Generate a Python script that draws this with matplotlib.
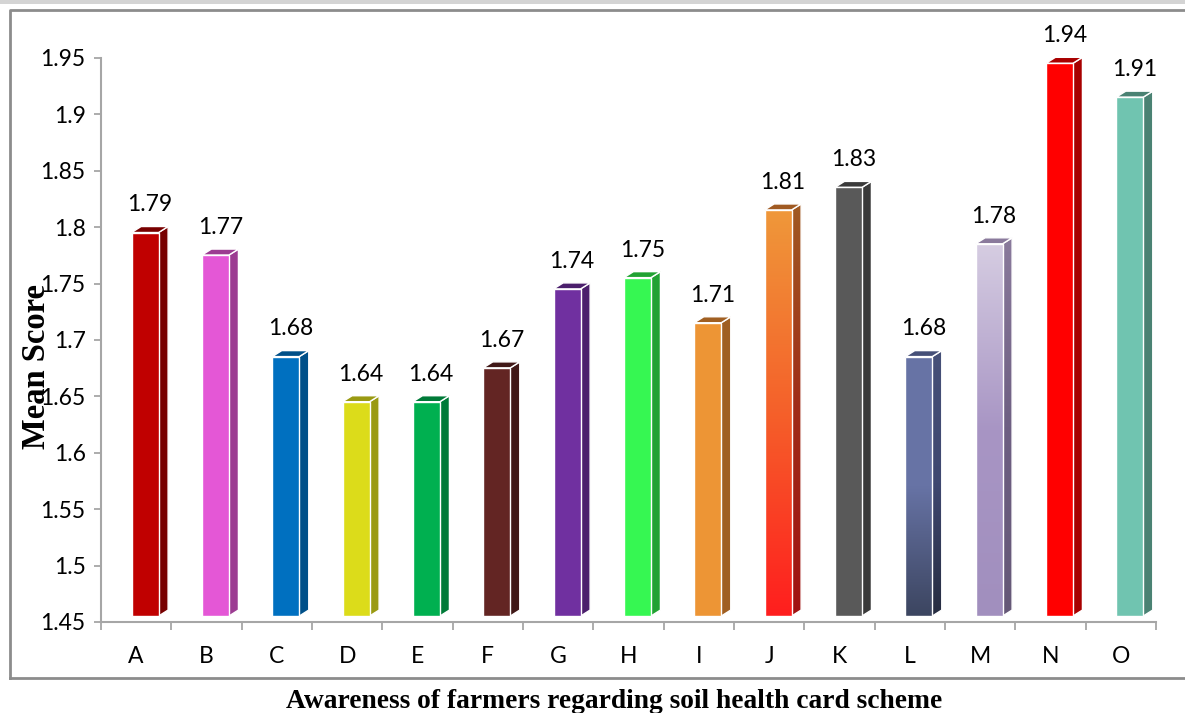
import numpy as np
import matplotlib
matplotlib.use("Agg")
import matplotlib.pyplot as plt
from matplotlib.patches import Polygon, Rectangle
from matplotlib.colors import to_rgb, LinearSegmentedColormap

# Mean awareness scores for each statement
categories = ["A", "B", "C", "D", "E", "F", "G", "H", "I", "J", "K", "L", "M", "N", "O"]
mean_scores = [1.79, 1.77, 1.68, 1.64, 1.64, 1.67, 1.74, 1.75, 1.71, 1.81, 1.83, 1.68, 1.78, 1.94, 1.91]
y_ticks = [1.45, 1.5, 1.55, 1.6, 1.65, 1.7, 1.75, 1.8, 1.85, 1.9, 1.95]

# Face colours: front (top->bottom gradient stops) and side shade
front_colors = [
    ["#c00000"], ["#e457d6"], ["#0070c0"], ["#dcdc1a"], ["#00b050"],
    ["#632523"], ["#7030a0"], ["#36f752"], ["#ed9535"],
    ["#ef983a", "#f5602a", "#ff1e1e"],
    ["#595959"],
    ["#6874a6", "#6773a5", "#3c4560"],
    ["#d6cde2", "#a895c4", "#a18fbe"],
    ["#ff0000"], ["#70c4b0"],
]
side_colors = [
    ["#780000"], ["#9c3c92"], ["#005089"], ["#9a9a12"], ["#007a38"],
    ["#401817"], ["#4b1f6c"], ["#22a233"], ["#a05f22"],
    ["#a05a22", "#a02c18", "#a01212"],
    ["#3a3a3a"],
    ["#465078", "#3f4870", "#262c40"],
    ["#8a7a9c", "#6e5f82", "#655877"],
    ["#a80000"], ["#4a8273"],
]

plt.rcParams["font.family"] = ["Lato", "DejaVu Sans"]

fig = plt.figure(figsize=(11.85, 7.13), dpi=100)

# page band and chart frame
fig.patches.append(Rectangle((0, 1 - 4 / 713), 1, 4 / 713, transform=fig.transFigure,
                             facecolor="#d4d4d4", edgecolor="none", zorder=0))
fig.lines.append(plt.Line2D([9.5 / 1185, 9.5 / 1185, 1.0], [1 - 678 / 713, 1 - 10 / 713, 1 - 10 / 713],
                            transform=fig.transFigure, color="#8c8c8c", lw=2))
fig.lines.append(plt.Line2D([9.5 / 1185, 1.0], [1 - 678 / 713, 1 - 678 / 713],
                            transform=fig.transFigure, color="#8c8c8c", lw=2))

ax = fig.add_axes([101 / 1185, 1 - 622 / 713, (1156 - 101) / 1185, (622 - 58) / 713])
ax.set_xlim(0, len(categories))
ax.set_ylim(1.45, 1.95)

# geometry of the pseudo-3D bars (data units)
lift = 0.0053
x_off = -0.065
front_w = 0.384
depth_x = 0.135
depth_y = 0.0053


def draw_face(verts, stops, zorder):
    poly = Polygon(verts, closed=True, facecolor=to_rgb(stops[0]) if len(stops) == 1 else "none",
                   edgecolor="white", lw=1.0, zorder=zorder + 0.5)
    ax.add_patch(poly)
    if len(stops) > 1:
        xs = [v[0] for v in verts]
        ys = [v[1] for v in verts]
        cmap = LinearSegmentedColormap.from_list("g", [to_rgb(c) for c in stops[::-1]])
        grad = np.linspace(0, 1, 256).reshape(-1, 1)
        im = ax.imshow(grad, cmap=cmap, origin="lower", aspect="auto",
                       extent=(min(xs), max(xs), min(ys), max(ys)), zorder=zorder,
                       interpolation="bilinear")
        clip = Polygon(verts, closed=True, facecolor="none", edgecolor="none")
        ax.add_patch(clip)
        im.set_clip_path(clip)


base = 1.45 + lift
for i, v in enumerate(mean_scores):
    x0 = i + 0.5 + x_off
    x1 = x0 + front_w
    top = v + lift
    front = [(x0, base), (x1, base), (x1, top), (x0, top)]
    side = [(x1, base), (x1 + depth_x, base + depth_y), (x1 + depth_x, top + depth_y), (x1, top)]
    cap = [(x0, top), (x1, top), (x1 + depth_x, top + depth_y), (x0 + depth_x, top + depth_y)]
    draw_face(side, side_colors[i], 2)
    draw_face(cap, [side_colors[i][0]], 2)
    draw_face(front, front_colors[i], 3)
    ax.annotate(f"{v:.2f}", xy=(x0 + (front_w + depth_x) / 2, v), xytext=(0, 19.5),
                textcoords="offset points", ha="center", va="baseline",
                fontsize=16.5, color="black", annotation_clip=False, zorder=5)

# axes styling
for s in ("top", "right"):
    ax.spines[s].set_visible(False)
for s in ("left", "bottom"):
    ax.spines[s].set_color("#a6a6a6")
    ax.spines[s].set_linewidth(1.5)

ax.set_yticks(y_ticks)
ax.set_yticklabels([f"{t:g}" for t in y_ticks])
ax.tick_params(axis="y", direction="out", length=5, width=1.3, color="#a6a6a6",
               pad=6, labelsize=16.5)

ax.set_xticks(np.arange(0, len(categories) + 1))
ax.set_xticklabels([])
ax.tick_params(axis="x", which="major", direction="out", length=6, width=1.3, color="#a6a6a6")
ax.set_xticks(np.arange(len(categories)) + 0.5, minor=True)
ax.set_xticklabels(categories, minor=True)
ax.tick_params(axis="x", which="minor", length=0, pad=17, labelsize=16.5)

fig.text(37 / 1185, 1 - 366 / 713, "Mean Score", rotation=90, ha="center", va="center",
         family="Liberation Serif", fontweight="bold", fontsize=23.5)
fig.text(614 / 1185, 1 - 702 / 713, "Awareness of farmers regarding soil health card scheme",
         ha="center", va="center", family="Liberation Serif", fontweight="bold", fontsize=19.8)

fig.savefig("out.png", dpi=100)
